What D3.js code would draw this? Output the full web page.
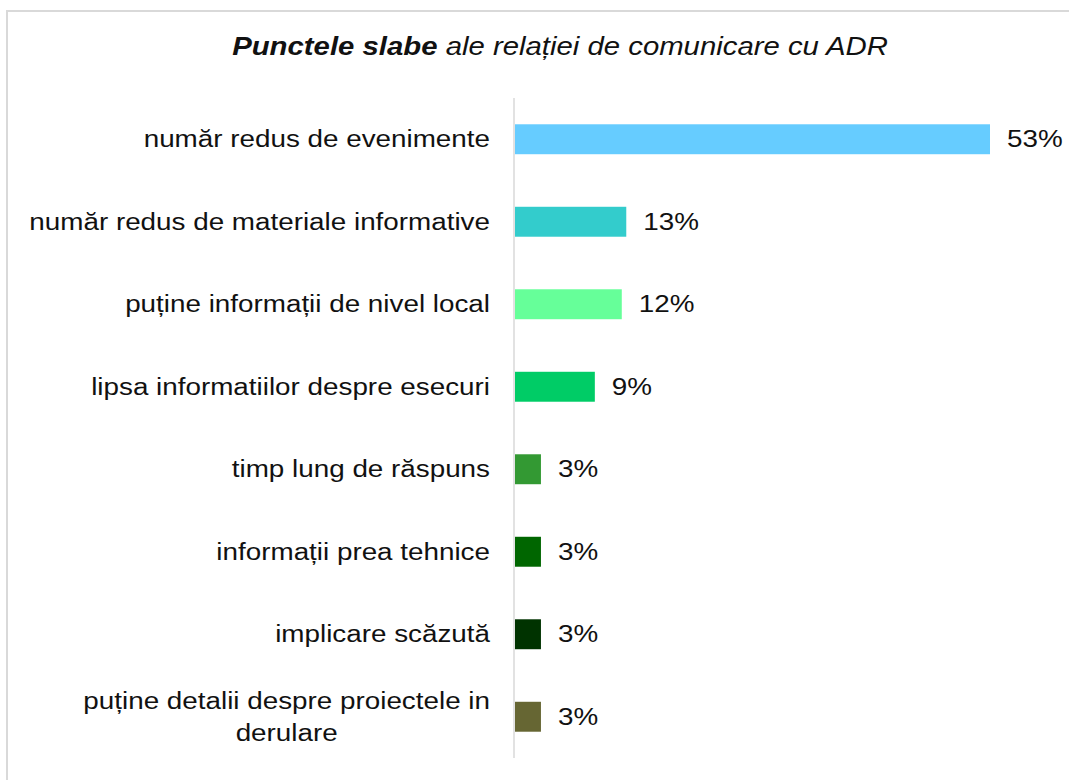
<!DOCTYPE html>
<html>
<head>
<meta charset="utf-8">
<script src="https://cdn.jsdelivr.net/npm/d3@7"></script>
<style>
  body { margin: 0; background: #fff; }
  text { font-family: "Liberation Sans", Arial, sans-serif; fill: #111; }
</style>
</head>
<body>
<svg id="chart" width="1069" height="780"></svg>
<script>
const categories = [
  "număr redus de evenimente",
  "număr redus de materiale informative",
  "puține informații de nivel local",
  "lipsa informatiilor despre esecuri",
  "timp lung de răspuns",
  "informații prea tehnice",
  "implicare scăzută",
  "puține detalii despre proiectele in derulare"
];
const values = [53, 12.5, 12, 9, 3, 3, 3, 3];
const colors = ["#66CCFF", "#33CCCC", "#66FF99", "#00CC66", "#339933", "#006600", "#003300", "#666633"];
// how each label breaks into lines
const labelLines = [
  ["număr redus de evenimente"],
  ["număr redus de materiale informative"],
  ["puține informații de nivel local"],
  ["lipsa informatiilor despre esecuri"],
  ["timp lung de răspuns"],
  ["informații prea tehnice"],
  ["implicare scăzută"],
  ["puține detalii despre proiectele in", "derulare"]
];

const sx = 1.15; // the reference text looks stretched horizontally
const fontSize = 24.2;

const svg = d3.select("#chart");

// frame
svg.append("path")
  .attr("d", "M7,780 V11 H1069")
  .attr("fill", "none")
  .attr("stroke", "#d9d9d9")
  .attr("stroke-width", 2);

const x = d3.scaleLinear().domain([0, 53]).range([514, 990]);
const y = d3.scaleBand().domain(categories).range([98, 758])
  .paddingInner(0.637).paddingOuter(0.3185);

// title
const title = svg.append("text")
  .attr("text-anchor", "middle")
  .attr("transform", `translate(560,55) scale(1.16,1)`)
  .style("font-size", "25.3px")
  .style("font-style", "italic");
title.append("tspan").style("font-weight", "bold").text("Punctele slabe");
title.append("tspan").text(" ale relației de comunicare cu ADR");

// axis line
svg.append("line")
  .attr("x1", x(0)).attr("x2", x(0))
  .attr("y1", 98).attr("y2", 758)
  .attr("stroke", "#d9d9d9")
  .attr("stroke-width", 1.5);

// bars
svg.selectAll("rect.bar")
  .data(categories)
  .join("rect")
  .attr("class", "bar")
  .attr("x", x(0) + 1)
  .attr("y", d => y(d))
  .attr("width", (d, i) => x(values[i]) - x(0) - 1)
  .attr("height", y.bandwidth())
  .attr("fill", (d, i) => colors[i]);

// value labels
svg.selectAll("text.val")
  .data(categories)
  .join("text")
  .attr("class", "val")
  .attr("transform", (d, i) => `translate(${x(values[i]) + 17},${y(d) + y.bandwidth() / 2 + 8}) scale(${sx},1)`)
  .style("font-size", fontSize + "px")
  .text((d, i) => Math.round(values[i]) + "%");

// category labels
const lineH = 32;
categories.forEach((c, i) => {
  const lines = labelLines[i];
  const cy = y(c) + y.bandwidth() / 2;
  const g = svg.append("text")
    .style("font-size", fontSize + "px");
  lines.forEach((l, j) => {
    g.append("tspan").attr("x", 0)
      .attr("y", (j - (lines.length - 1) / 2) * lineH + 8)
      .text(l);
  });
  if (lines.length === 1) {
    g.attr("text-anchor", "end")
      .attr("transform", `translate(490,${cy}) scale(${sx},1)`);
  } else {
    const w = d3.max(g.selectAll("tspan").nodes(), n => n.getComputedTextLength()) * sx;
    g.attr("text-anchor", "middle")
      .attr("transform", `translate(${490 - w / 2},${cy}) scale(${sx},1)`);
  }
});
</script>
</body>
</html>
